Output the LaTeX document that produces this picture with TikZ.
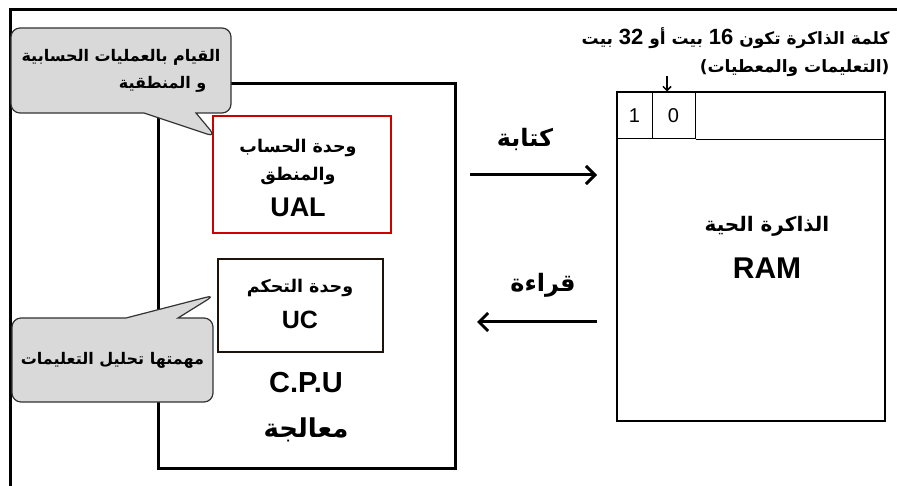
\documentclass[tikz,border=0pt]{standalone}
\usepackage{fontspec}
\setmainfont{Liberation Sans}
\newfontfamily\latinfont{Liberation Sans}
\newfontfamily\arabicfont[Script=Arabic]{DejaVu Sans}
\TeXXeTstate=1
\usetikzlibrary{shapes.callouts,arrows.meta}
\newcommand{\ar}[1]{{\arabicfont\bfseries\beginR #1\endR}}
\newcommand{\lt}[1]{{\latinfont\bfseries\beginL #1\endL}}
\newcommand{\fs}[1]{\fontsize{#1}{#1}\selectfont}
\tikzset{
  unitbox/.style={draw, line width=2pt, inner sep=0pt},
  bitcell/.style={draw, line width=1pt, minimum height=47pt, inner sep=0pt, font=\fs{20}},
  bubble/.style={rectangle callout, draw=black!80, line width=1.2pt, fill=black!15,
    rounded corners=9pt, inner sep=0pt, callout pointer width=52pt, font=\fs{16}},
  flow/.style={line width=3pt, -{Straight Barb[length=9pt,width=18pt,line width=3pt]}},
}
\begin{document}
\begin{tikzpicture}[x=1pt, y=-1pt, font=\fs{20}]
  \useasboundingbox (0,0) rectangle (897,486);
  \draw[line width=3pt] (10,486) -- (10,10) -- (897,10);

  % processor side
  \node[unitbox, line width=3pt, minimum width=297pt, minimum height=384pt] (cpu) at (306.5,276) {};
  \node[unitbox, draw=red!80!black, minimum width=178pt, minimum height=117pt] (ual) at (302,174.5) {};
  \node[unitbox, draw=black!85!brown, minimum width=165pt, minimum height=93pt] (uc) at (300.5,305.5) {};
  \node[font=\fs{17.5}, align=center] (ualname) at (298,162) {\ar{وحدة الحساب}\\[10pt]\ar{والمنطق}};
  \node[font=\fs{27}] (ualcode) at (298,207) {\lt{UAL}};
  \node[font=\fs{17.5}] (ucname) at (300,288) {\ar{وحدة التحكم}};
  \node[font=\fs{25}] (uccode) at (300,320) {\lt{UC}};
  \node[font=\fs{29}] (cpucode) at (306,383) {\lt{C.P.U}};
  \node[font=\fs{26}] (cpuname) at (306,430) {\ar{معالجة}};

  % callouts
  \node[bubble, minimum width=220pt, minimum height=85pt, align=right,
    callout absolute pointer={(216,137)}] (ualnote) at (121,70.5)
    {\ar{القيام بالعمليات الحسابية}\\[10pt]\ar{و المنطقية}\hspace*{14pt}};
  \node[bubble, minimum width=201pt, minimum height=84pt,
    callout absolute pointer={(215,295)}] (ucnote) at (112.5,360)
    {\ar{مهمتها تحليل التعليمات}};

  % memory side
  \node[unitbox, line width=2.5pt, minimum width=268pt, minimum height=329pt] (ram) at (751,256.5) {};
  \node[bitcell, minimum width=35pt] (bitone) at (634.5,115.5) {1};
  \node[bitcell, minimum width=43pt] (bitzero) at (673.5,115.5) {0};
  \draw[line width=1pt] (bitzero.south east) -- (ram.east |- bitzero.south);
  \node (ramname) at (767,226) {\ar{الذاكرة الحية}};
  \node[font=\fs{30}] (ramcode) at (767,268) {\lt{RAM}};

  \node[anchor=east, font=\fs{17}] (wordline) at (893,38)
    {\arabicfont\bfseries\beginR كلمة الذاكرة تكون {\fs{22}\lt{16}} بيت أو {\fs{22}\lt{32}} بيت\endR};
  \node[anchor=east, font=\fs{17}] (wordkind) at (893,68) {\ar{(التعليمات والمعطيات)}};
  \coordinate (bitmark) at (667,76);
  \draw[line width=1.5pt, -{Straight Barb[length=4pt,width=8pt]}] (bitmark) -- (bitmark |- bitzero.north);

  % transfers
  \coordinate (writefrom) at (470,175);
  \coordinate (writeto) at (597,175);
  \coordinate (readfrom) at (597,322);
  \coordinate (readto) at (477,322);
  \draw[flow] (writefrom) -- (writeto);
  \draw[flow] (readfrom) -- (readto);
  \node[font=\fs{24}] (writelabel) at (525,139) {\ar{كتابة}};
  \node[font=\fs{24}] (readlabel) at (543,285) {\ar{قراءة}};
\end{tikzpicture}
\end{document}
